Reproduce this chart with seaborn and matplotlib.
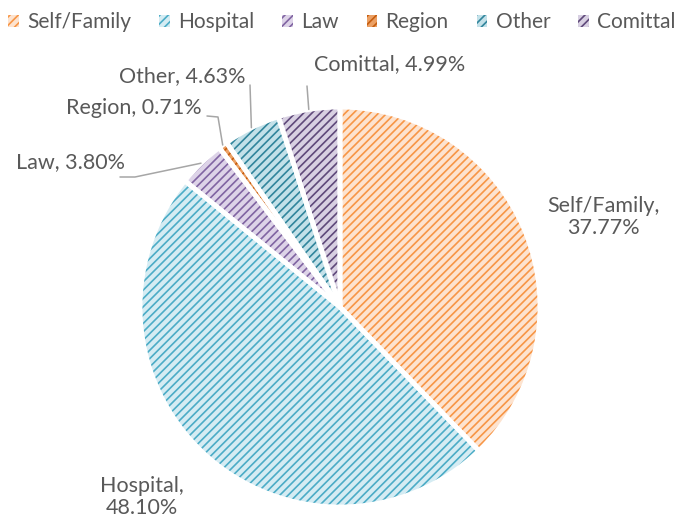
import numpy as np
import matplotlib
matplotlib.use("Agg")
import matplotlib.pyplot as plt
import matplotlib.patches as mpatches
import seaborn as sns

# data
categories = ["Self/Family", "Hospital", "Law", "Region", "Other", "Comittal"]
shares = [37.77, 48.10, 3.80, 0.71, 4.63, 4.99]

# styling
line_colors = ["#F79646", "#4BACC6", "#8064A2", "#C65D0E", "#31859C", "#5F497A"]
face_colors = ["#FDE3CF", "#D5ECF3", "#DDD3E8", "#EBA064", "#C3E1E9", "#D8D0E2"]

sns.set_theme(style="white")
plt.rcParams['font.family'] = ['Lato', 'DejaVu Sans']
plt.rcParams['hatch.linewidth'] = 1.2
text_color = "#595959"
lead_color = "#A6A6A6"

fig = plt.figure(figsize=(6.84, 5.21), dpi=100)
ax = fig.add_axes([0, 0, 1, 1])

# hatched fill first, then white separators on top
wedges, _ = ax.pie(shares, startangle=90, counterclock=False, radius=1.0,
                   colors=face_colors, wedgeprops=dict(linewidth=0))
for w, lc in zip(wedges, line_colors):
    w.set_hatch("////")
    w.set_edgecolor(lc)
ax.pie(shares, startangle=90, counterclock=False, radius=1.0,
       colors=["none"] * len(shares),
       wedgeprops=dict(linewidth=3.5, edgecolor="white"))

ax.set_xlim(-1.70, 1.72)
ax.set_ylim(-1.07, 1.535)
ax.set_aspect("auto")
ax.axis("off")

# label layout: text centre and optional leader waypoints
label_pos = {
    "Self/Family": ((1.315, 0.45), True, None),
    "Hospital": ((-0.99, -0.95), True, None),
    "Law": ((-1.35, 0.725), False, [(-1.10, 0.65), (-1.025, 0.65)]),
    "Region": ((-1.03, 0.995), False, [(-0.665, 0.955), (-0.61, 0.95)]),
    "Other": ((-0.79, 1.155), False, [(-0.45, 1.11)]),
    "Comittal": ((0.25, 1.215), False, [(-0.165, 1.105)]),
}

for w, cat, val in zip(wedges, categories, shares):
    (tx, ty), two_line, path = label_pos[cat]
    sep = ",\n" if two_line else ", "
    ax.text(tx, ty, f"{cat}{sep}{val:.2f}%", ha="center", va="center",
            fontsize=15.5, color=text_color, linespacing=1.15)
    if path:
        mid = np.deg2rad((w.theta1 + w.theta2) / 2)
        pts = path + [(np.cos(mid), np.sin(mid))]
        xs, ys = zip(*pts)
        ax.plot(xs, ys, color=lead_color, lw=1.1, zorder=1)

handles = [mpatches.Patch(facecolor=fc, edgecolor=lc, hatch="////", linewidth=0)
           for fc, lc in zip(face_colors, line_colors)]
fig.legend(handles, categories, loc="upper center", bbox_to_anchor=(0.5, 1.012),
           ncol=6, frameon=False, fontsize=15, labelcolor=text_color,
           handlelength=0.5, handleheight=0.5, handletextpad=0.4,
           columnspacing=1.35)

fig.savefig("out.png", dpi=100)
